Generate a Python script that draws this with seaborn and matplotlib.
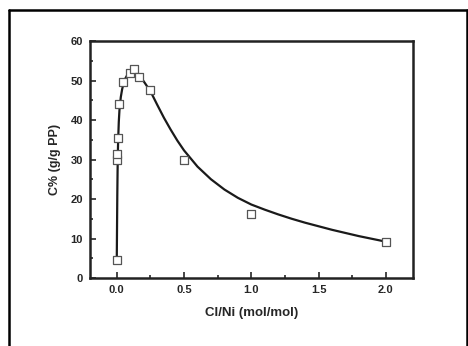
import numpy as np
import pandas as pd
import seaborn as sns
import matplotlib.pyplot as plt
from matplotlib.lines import Line2D
from matplotlib.ticker import MultipleLocator

# measured points
cl_ni = [0.0, 0.005, 0.005, 0.01, 0.02, 0.05, 0.1, 0.125, 0.167, 0.25, 0.5, 1.0, 2.0]
c_pct = [4.5, 30.0, 31.5, 35.5, 44.0, 49.5, 52.0, 53.0, 51.0, 47.5, 30.0, 16.3, 9.2]

# fitted curve
fit_x = [0.0, 0.002, 0.004, 0.006, 0.008, 0.01, 0.015, 0.02, 0.03, 0.04, 0.05,
         0.065, 0.08, 0.1, 0.12, 0.14, 0.17, 0.2, 0.25, 0.3, 0.35, 0.4, 0.45,
         0.5, 0.6, 0.7, 0.8, 0.9, 1.0, 1.1, 1.2, 1.3, 1.4, 1.5, 1.6, 1.7, 1.8,
         1.9, 2.0]
fit_y = [4.5, 13.0, 21.0, 27.0, 31.5, 34.5, 39.5, 42.5, 45.8, 47.8, 49.2,
         50.6, 51.5, 52.1, 52.3, 52.1, 51.2, 49.8, 47.3, 43.9, 40.6, 37.6, 34.8,
         32.3, 28.2, 25.0, 22.4, 20.3, 18.6, 17.3, 16.1, 15.0, 14.0, 13.1, 12.2,
         11.4, 10.6, 9.9, 9.2]

pts = pd.DataFrame({"x": cl_ni, "y": c_pct})
fit = pd.DataFrame({"x": fit_x, "y": fit_y})

sns.set_style("ticks")
plt.rcParams["font.family"] = ["Liberation Sans", "DejaVu Sans"]
plt.rcParams["font.weight"] = "bold"

fig = plt.figure(figsize=(4.68, 3.46), dpi=100)
ax = fig.add_axes([0.192, 0.1965, 0.69, 0.685])

sns.lineplot(data=fit, x="x", y="y", ax=ax, color="#1a1a1a", linewidth=1.6, sort=False)
sns.scatterplot(data=pts, x="x", y="y", ax=ax, marker="s", s=38,
                facecolor="white", edgecolor="#555555", linewidth=0.9, zorder=3)

ax.set_xlim(-0.2, 2.2)
ax.set_ylim(0, 60)
ax.xaxis.set_major_locator(MultipleLocator(0.5))
ax.xaxis.set_minor_locator(MultipleLocator(0.25))
ax.yaxis.set_major_locator(MultipleLocator(10))
ax.yaxis.set_minor_locator(MultipleLocator(5))
ax.tick_params(which="both", direction="in", top=False, right=False,
               labelsize=8, width=1.2, pad=5)
ax.tick_params(which="major", length=4)
ax.tick_params(which="minor", length=2.5)
for lab in ax.get_xticklabels() + ax.get_yticklabels():
    lab.set_fontweight("bold")
for sp in ax.spines.values():
    sp.set_linewidth(1.8)
    sp.set_color("#222222")

ax.set_xlabel("Cl/Ni (mol/mol)", fontsize=9.5, fontweight="bold", labelpad=9)
ax.set_ylabel("C% (g/g PP)", fontsize=9, fontweight="bold", labelpad=7)

# outer frame (left, top, right)
W, H = 468, 346
fig.add_artist(Line2D([8.5 / W, 8.5 / W], [0, 1 - 9.5 / H], color="black", lw=1.8,
                      transform=fig.transFigure))
fig.add_artist(Line2D([8.5 / W, 466.5 / W], [1 - 9.5 / H, 1 - 9.5 / H], color="black",
                      lw=1.8, transform=fig.transFigure))
fig.add_artist(Line2D([466.5 / W, 466.5 / W], [0, 1 - 9.5 / H], color="black", lw=1.8,
                      transform=fig.transFigure))

fig.savefig("out.png", dpi=100)
